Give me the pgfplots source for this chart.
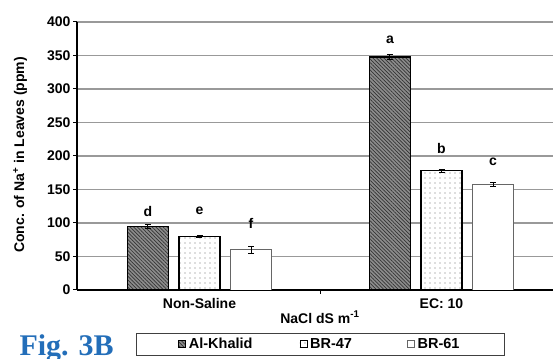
\documentclass[border=0pt]{standalone}
\usepackage{pgfplots}
\pgfplotsset{compat=1.18}
\usetikzlibrary{patterns.meta}
\usepackage{fontspec}
\setmainfont{Liberation Sans}
\newfontfamily\figserif{Liberation Serif}
\definecolor{figblue}{RGB}{35,110,185}
\pgfplotsset{myerr/.style={error bars/.cd, y dir=both, y explicit,
  error bar style={line width=1pt, black},
  error mark options={rotate=90, mark size=3pt, line width=1pt, black}}}
\begin{document}
\begin{tikzpicture}[font=\bfseries\fontsize{14}{16}\selectfont]
\begin{axis}[
  at={(0,0)}, anchor=origin,
  x=242pt, y=0.67pt,
  xmin=-0.506, xmax=1.47,
  ymin=0, ymax=400,
  enlargelimits=false,
  axis x line*=bottom, axis y line*=left,
  axis line style={line width=1.4pt, black},
  ytick={0,50,...,400},
  ymajorgrids,
  major grid style={black!40, line width=1.3pt},
  tick align=outside,
  major tick length=4pt,
  tick style={line width=1pt, black},
  /pgf/number format/assume math mode=true,
  yticklabel style={xshift=1pt},
  xtick={0.5}, xticklabels={},
  extra x ticks={0,1},
  extra x tick labels={Non-Saline, EC: 10},
  extra x tick style={major tick length=0pt, xticklabel style={anchor=base, yshift=-19pt}},
  xlabel={NaCl dS m\textsuperscript{-1}},
  xlabel style={at={(axis description cs:0.508,0)}, anchor=base, yshift=-33pt},
  ylabel={Conc. of Na\textsuperscript{+} in Leaves (ppm)},
  ylabel style={at={(axis description cs:-0.119,0.504)}, anchor=center, rotate=0},
  ybar, bar width=0.169, bar shift=0pt,
  legend columns=3,
  legend style={at={(0.123,-0.160)}, anchor=north west, draw=black!75, line width=0.8pt,
    inner xsep=42pt, inner ysep=3pt, font=\bfseries\fontsize{14.5}{17}\selectfont,
    nodes={inner xsep=3pt},
    /tikz/column 2/.style={column sep=44pt},
    /tikz/column 4/.style={column sep=52pt}},
  legend image code/.code={\draw[#1, line width=0.6pt] (0pt,-3.5pt) rectangle (7pt,3.5pt);},
]
\addplot+[draw=black, line width=1.4pt, fill=black!45,
  postaction={pattern={Lines[angle=-45, distance=2.6pt, line width=0.7pt]}, pattern color=black!80}, myerr]
  coordinates {(-0.213,95) +- (0,3) (0.787,348) +- (0,4)};
\addlegendentry{Al-Khalid}
\addplot+[draw=black, line width=1.4pt, fill=white,
  postaction={pattern={Dots[distance=5pt, radius=0.7pt]}, pattern color=black!55}, myerr]
  coordinates {(0,80) +- (0,2) (1,178) +- (0,2)};
\addlegendentry{BR-47}
\addplot+[draw=black!60, line width=0.8pt, fill=white, myerr]
  coordinates {(0.213,60) +- (0,5) (1.213,157) +- (0,3)};
\addlegendentry{BR-61}
\node[anchor=base] at (axis cs:-0.213,109) {d};
\node[anchor=base] at (axis cs:0,112) {e};
\node[anchor=base] at (axis cs:0.213,92) {f};
\node[anchor=base] at (axis cs:0.787,368) {a};
\node[anchor=base] at (axis cs:1,204) {b};
\node[anchor=base] at (axis cs:1.213,186) {c};
\end{axis}
\node[anchor=base west, text=figblue, font=\figserif\bfseries\fontsize{30}{30}\selectfont] at (-183.5pt,-65pt) {Fig. 3B};
\pgfresetboundingbox
\path (-199.5pt,-68pt) rectangle (353.5pt,290pt);
\end{tikzpicture}
\end{document}
